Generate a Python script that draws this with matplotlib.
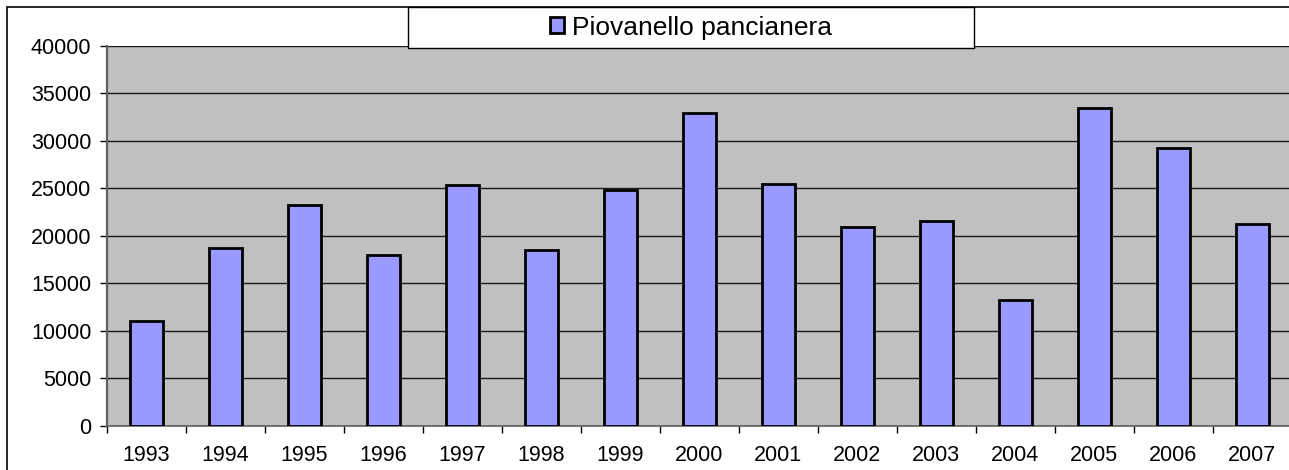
import matplotlib
matplotlib.use("Agg")
import matplotlib.pyplot as plt
import numpy as np
from matplotlib.patches import Rectangle

years = ["1993", "1994", "1995", "1996", "1997", "1998", "1999", "2000",
         "2001", "2002", "2003", "2004", "2005", "2006", "2007"]
counts = [11000, 18700, 23200, 18000, 25400, 18500, 24800, 32900,
          25500, 20900, 21550, 13250, 33450, 29250, 21250]
series_label = "Piovanello pancianera"
y_ticks = [0, 5000, 10000, 15000, 20000, 25000, 30000, 35000, 40000]

plt.rcParams["font.family"] = ["Liberation Sans", "DejaVu Sans"]

W, H = 1289, 470
fig = plt.figure(figsize=(W / 100, H / 100), dpi=100)

# outer chart border (cut off on the right and bottom in the original)
fig.patches.append(Rectangle((7 / W, -0.1), 1.2, 1 - 7 / H + 0.1, transform=fig.transFigure,
                             fill=False, edgecolor="black", linewidth=1.2, zorder=0))

left, right = 106.7, 106.7 + 15 * 79.0
top, bottom = 46.0, 425.7
ax = fig.add_axes([left / W, 1 - bottom / H, (right - left) / W, (bottom - top) / H])
ax.set_facecolor("#C0C0C0")

x = np.arange(len(years))
ax.bar(x, counts, width=0.42, color="#9999FF", edgecolor="black", linewidth=2.0,
       zorder=3, label=series_label)

ax.set_xlim(-0.5, len(years) - 0.5)
ax.set_ylim(0, 40000)
ax.set_yticks(y_ticks)
ax.set_yticklabels([str(v) for v in y_ticks])
ax.yaxis.grid(True, color="#1a1a1a", linewidth=1.0, zorder=1)
ax.set_axisbelow(True)

ax.set_xticks(x)
ax.set_xticklabels(years)
ax.set_xticks(np.arange(len(years)) - 0.5, minor=True)
ax.tick_params(axis="x", which="major", length=0, pad=14, labelsize=15.5)
ax.tick_params(axis="x", which="minor", length=5, width=1, direction="out", color="black")
ax.tick_params(axis="y", length=5, width=1, direction="out", pad=6, labelsize=15.5)

for side in ["top", "right"]:
    ax.spines[side].set_visible(False)
ax.spines["left"].set_color("#606060")
ax.spines["left"].set_linewidth(1.6)
ax.spines["bottom"].set_color("#606060")
ax.spines["bottom"].set_linewidth(1.2)

# legend box at top
lx0, lx1, ly0, ly1 = 408, 974, 7, 48
fig.patches.append(Rectangle((lx0 / W, 1 - ly1 / H), (lx1 - lx0) / W, (ly1 - ly0) / H,
                             transform=fig.transFigure, facecolor="white",
                             edgecolor="black", linewidth=1.0, zorder=5))
leg = fig.legend(loc="center", bbox_to_anchor=((lx0 + lx1) / 2 / W, 1 - (ly0 + ly1) / 2 / H),
                 frameon=False, fontsize=19, handlelength=0.55, handleheight=0.55,
                 handletextpad=0.3, borderpad=0)
leg.set_zorder(6)

fig.savefig("out.png", dpi=100)
